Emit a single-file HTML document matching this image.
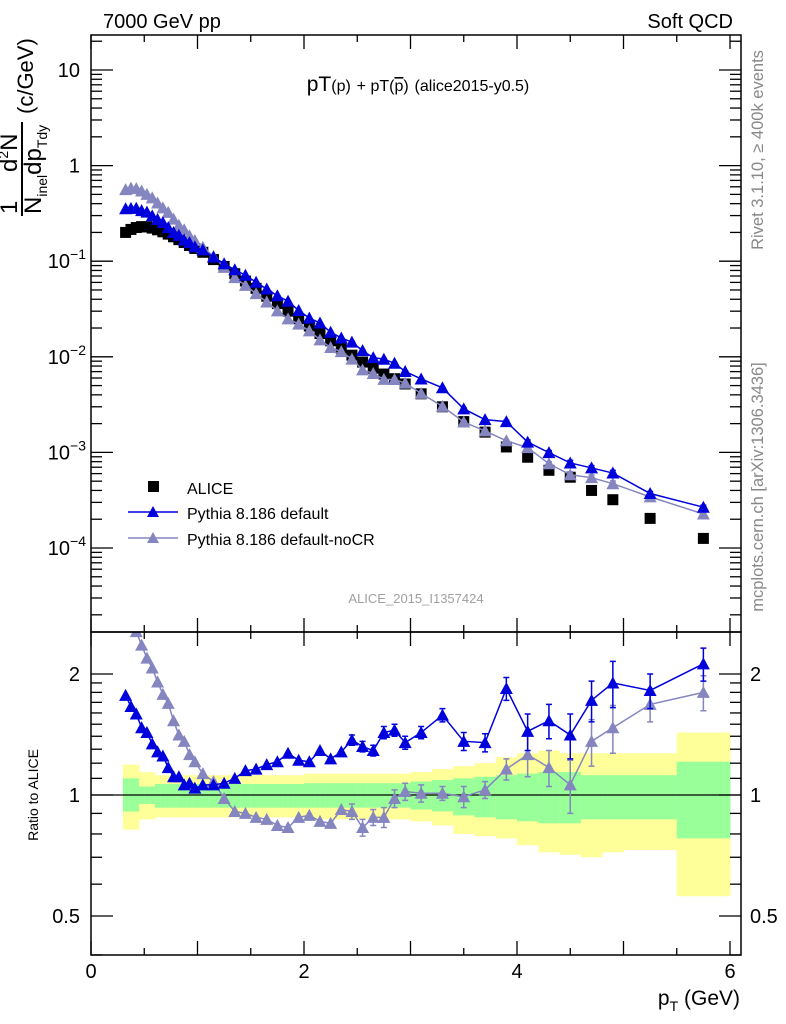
<!DOCTYPE html>
<html><head><meta charset="utf-8"><style>
body{margin:0;background:#fff}
svg{display:block;font-family:"Liberation Sans",sans-serif}
</style></head><body>
<svg id="c" width="786" height="1024" viewBox="0 0 786 1024" xmlns="http://www.w3.org/2000/svg">
<g id="bands"></g>
<g id="marks"></g>
<g id="axes"></g>
<text x="103" y="28" font-size="20">7000 GeV pp</text>
<text x="733" y="28" font-size="20" text-anchor="end">Soft QCD</text>
<text x="418" y="91" font-size="21" text-anchor="middle">pT<tspan font-size="16">(p)</tspan> <tspan font-size="16">+ pT(</tspan><tspan font-size="16" text-decoration="overline">p</tspan><tspan font-size="16">)</tspan> <tspan font-size="16">(alice2015-y0.5)</tspan></text>
<text x="416" y="603" font-size="13" fill="#a0a0a0" text-anchor="middle">ALICE_2015_I1357424</text>
<text transform="translate(763,150) rotate(-90)" font-size="16.5" fill="#888" text-anchor="middle">Rivet 3.1.10, ≥ 400k events</text>
<text transform="translate(763,487) rotate(-90)" font-size="16.5" fill="#888" text-anchor="middle">mcplots.cern.ch [arXiv:1306.3436]</text>
<g transform="rotate(-90)">
<text x="-214" y="17" font-size="24">1</text>
<text x="-172" y="17" font-size="24">d<tspan font-size="14" dy="-9">2</tspan><tspan dy="9">N</tspan></text>
<line x1="-216" y1="22" x2="-122" y2="22" stroke="#000" stroke-width="2"/>
<text x="-214" y="41" font-size="24">N<tspan font-size="14" dy="6">inel</tspan><tspan dy="-6">dp</tspan><tspan font-size="14" dy="6">Tdy</tspan></text>
<text x="-114" y="33" font-size="22">(c/GeV)</text>
</g>
<text transform="translate(38,795) rotate(-90)" font-size="14" text-anchor="middle">Ratio to ALICE</text>
<text x="740" y="1005" font-size="21" text-anchor="end">p<tspan font-size="14" dy="6">T</tspan><tspan dy="-6"> (GeV)</tspan></text>
<g>
<rect x="148" y="481" width="11" height="11" fill="#000"/>
<text x="187" y="494" font-size="16">ALICE</text>
<line x1="128" y1="512" x2="178" y2="512" stroke="#0000dd" stroke-width="1.5"/>
<polygon points="147,517 159,517 153,506" fill="#0000dd"/>
<text x="187" y="519" font-size="16">Pythia 8.186 default</text>
<line x1="128" y1="538" x2="178" y2="538" stroke="#8585bf" stroke-width="1.5"/>
<polygon points="147,543 159,543 153,532" fill="#8585bf"/>
<text x="187" y="545" font-size="16">Pythia 8.186 default-noCR</text>
</g>
</svg>
<script>
const edges=[0.3,0.35,0.4,0.45,0.5,0.55,0.6,0.65,0.7,0.75,0.8,0.85,0.9,0.95,1.0,1.1,1.2,1.3,1.4,1.5,1.6,1.7,1.8,1.9,2.0,2.1,2.2,2.3,2.4,2.5,2.6,2.7,2.8,2.9,3.0,3.2,3.4,3.6,3.8,4.0,4.2,4.4,4.6,4.8,5.0,5.5,6.0];
const alice=[0.200,0.215,0.225,0.230,0.228,0.222,0.213,0.203,0.192,0.180,0.168,0.157,0.146,0.136,0.124,0.104,0.088,0.074,0.062,0.052,0.043,0.036,0.030,0.025,0.021,0.0175,0.0147,0.0123,0.0104,0.0088,0.0076,0.0066,0.0059,0.0052,0.0041,0.0030,0.0021,0.00163,0.00114,0.00089,0.00065,0.00055,0.00040,0.00032,0.000204,0.000126];
const ratioDef=[1.77,1.66,1.59,1.47,1.43,1.34,1.28,1.25,1.17,1.11,1.11,1.06,1.07,1.04,1.06,1.06,1.07,1.10,1.15,1.16,1.19,1.21,1.27,1.22,1.21,1.29,1.23,1.28,1.37,1.32,1.29,1.43,1.45,1.35,1.43,1.58,1.36,1.35,1.84,1.44,1.53,1.41,1.72,1.90,1.82,2.12];
const ratioNoCR=[2.8,2.7,2.55,2.36,2.19,2.07,1.91,1.78,1.69,1.53,1.41,1.36,1.26,1.21,1.13,1.08,0.98,0.91,0.90,0.88,0.87,0.84,0.83,0.88,0.89,0.86,0.85,0.92,0.91,0.83,0.88,0.88,0.98,1.02,1.01,1.01,0.99,1.03,1.16,1.26,1.17,1.06,1.36,1.47,1.68,1.80];
const errDef=[0.01,0.01,0.01,0.01,0.01,0.01,0.01,0.01,0.01,0.01,0.01,0.01,0.01,0.01,0.01,0.01,0.01,0.01,0.01,0.01,0.01,0.01,0.02,0.02,0.02,0.03,0.03,0.03,0.04,0.04,0.04,0.05,0.05,0.05,0.05,0.06,0.07,0.07,0.12,0.15,0.15,0.18,0.2,0.25,0.18,0.2];
const errNoCR=[0.01,0.01,0.01,0.01,0.01,0.01,0.01,0.01,0.01,0.01,0.01,0.01,0.01,0.01,0.01,0.01,0.01,0.01,0.01,0.01,0.01,0.01,0.02,0.02,0.02,0.03,0.03,0.03,0.04,0.04,0.04,0.05,0.05,0.05,0.05,0.04,0.06,0.05,0.07,0.15,0.12,0.16,0.18,0.2,0.16,0.18];
const yUp=[1.19,1.19,1.19,1.14,1.14,1.14,1.12,1.12,1.12,1.12,1.12,1.12,1.12,1.12,1.12,1.12,1.12,1.12,1.12,1.12,1.12,1.12,1.12,1.12,1.13,1.13,1.13,1.13,1.13,1.13,1.13,1.13,1.13,1.13,1.14,1.16,1.18,1.20,1.24,1.27,1.29,1.27,1.27,1.27,1.27,1.43];
const yDn=[0.82,0.82,0.82,0.87,0.87,0.87,0.88,0.88,0.88,0.88,0.88,0.88,0.88,0.88,0.88,0.88,0.88,0.88,0.88,0.88,0.88,0.88,0.88,0.88,0.87,0.87,0.87,0.87,0.87,0.87,0.87,0.87,0.87,0.87,0.86,0.84,0.80,0.79,0.78,0.75,0.72,0.71,0.70,0.72,0.73,0.56];
const gUp=[1.10,1.10,1.10,1.05,1.05,1.05,1.065,1.065,1.065,1.065,1.065,1.065,1.065,1.065,1.065,1.065,1.065,1.065,1.065,1.065,1.065,1.065,1.065,1.065,1.07,1.07,1.07,1.07,1.07,1.07,1.07,1.07,1.07,1.07,1.08,1.09,1.10,1.11,1.12,1.13,1.14,1.14,1.12,1.12,1.12,1.21];
const gDn=[0.91,0.91,0.91,0.95,0.95,0.95,0.93,0.93,0.93,0.93,0.93,0.93,0.93,0.93,0.93,0.93,0.93,0.93,0.93,0.93,0.93,0.93,0.93,0.93,0.93,0.93,0.93,0.93,0.93,0.93,0.93,0.93,0.93,0.93,0.92,0.91,0.89,0.88,0.87,0.86,0.85,0.85,0.87,0.87,0.87,0.78];
const xTicks=[0,2,4,6];
const yMainTicks=[1,0,-1,-2,-3,-4];
const ratioTicks=[0.5,1,2];

const NS="http://www.w3.org/2000/svg";
const L=91,R=741,T=35,MB=632,B=955;
const X=v=>L+v*106.5;
const Y=v=>548-(Math.log10(v)+4)*95.6;
const YR=r=>795-Math.log10(r)*402;
function mk(tag,attrs,parent){const e=document.createElementNS(NS,tag);for(const k in attrs)e.setAttribute(k,attrs[k]);parent.appendChild(e);return e;}
const bands=document.getElementById('bands'),marks=document.getElementById('marks'),axes=document.getElementById('axes');
const centers=alice.map((_,i)=>(edges[i]+edges[i+1])/2);

for(let i=0;i<alice.length;i++){
  const x0=X(edges[i]),x1=X(edges[i+1]);
  const ry=mk('rect',{x:x0,y:YR(yUp[i]),width:x1-x0+0.5,height:YR(yDn[i])-YR(yUp[i]),fill:'#ffff99'},bands);
  
  
  const rg=mk('rect',{x:x0,y:YR(gUp[i]),width:x1-x0+0.5,height:YR(gDn[i])-YR(gUp[i]),fill:'#99ff99'},bands);
  
  
}
const defs=mk('defs',{},marks);
const cp1=mk('clipPath',{id:'cm'},defs);mk('rect',{x:L,y:T,width:R-L,height:MB-T},cp1);
const cp2=mk('clipPath',{id:'cr'},defs);mk('rect',{x:L,y:MB,width:R-L,height:B-MB},cp2);
const gm=mk('g',{'clip-path':'url(#cm)'},marks);
const gr=mk('g',{'clip-path':'url(#cr)'},marks);
mk('line',{x1:L,y1:YR(1),x2:R,y2:YR(1),stroke:'#000','stroke-width':1.3},gr);

function tri(g,x,y,col,name){const p=mk('polygon',{points:`${x-6.5},${y+5.5} ${x+6.5},${y+5.5} ${x},${y-6.5}`,fill:col},g);

}
function series(ratio,err,col,name){
  let pm='',pr='';
  for(let i=0;i<ratio.length;i++){
    const x=X(centers[i]);const v=alice[i]*ratio[i];
    pm+=(i?'L':'M')+x+','+Y(v);pr+=(i?'L':'M')+x+','+YR(ratio[i]);
  }
  mk('path',{d:pm,fill:'none',stroke:col,'stroke-width':1.5},gm);
  mk('path',{d:pr,fill:'none',stroke:col,'stroke-width':1.5},gr);
  for(let i=0;i<ratio.length;i++){
    const x=X(centers[i]);
    if(err[i]>=0.04){
      const a=YR(ratio[i]+err[i]),b=YR(ratio[i]-err[i]);
      mk('path',{d:`M${x},${a}L${x},${b}M${x-3},${a}L${x+3},${a}M${x-3},${b}L${x+3},${b}`,stroke:col,'stroke-width':1.5},gr);
      const v=alice[i]*ratio[i],e=alice[i]*err[i]*0.5;
      mk('path',{d:`M${x},${Y(v+e)}L${x},${Y(v-e)}M${x-3},${Y(v+e)}L${x+3},${Y(v+e)}`,stroke:col,'stroke-width':1.5},gm);
    }
    tri(gm,x,Y(alice[i]*ratio[i]),col,name+'-point');
    tri(gr,x,YR(ratio[i]),col,name+'-ratio-point');
  }
}
for(let i=0;i<alice.length;i++){
  const s=mk('rect',{x:X(centers[i])-5.5,y:Y(alice[i])-5.5,width:11,height:11,fill:'#000'},gm);
  
  
}
series(ratioNoCR,errNoCR,'#8585bf','nocr');
series(ratioDef,errDef,'#0000dd','default');

mk('rect',{x:L,y:T,width:R-L,height:MB-T,fill:'none',stroke:'#000','stroke-width':1.5},axes);
mk('rect',{x:L,y:MB,width:R-L,height:B-MB,fill:'none',stroke:'#000','stroke-width':1.5},axes);
for(let v=0;v<=6.01;v+=0.5){
  const x=X(v),len=(Math.abs(v-Math.round(v))<0.01)?14:7;
  if(x>R)continue;
  mk('line',{x1:x,y1:B,x2:x,y2:B-len,stroke:'#000','stroke-width':1.3},axes);
  mk('line',{x1:x,y1:MB,x2:x,y2:MB+len,stroke:'#000','stroke-width':1.3},axes);
  mk('line',{x1:x,y1:MB,x2:x,y2:MB-len,stroke:'#000','stroke-width':1.3},axes);
  mk('line',{x1:x,y1:T,x2:x,y2:T+len,stroke:'#000','stroke-width':1.3},axes);
}
xTicks.forEach(v=>{const t=mk('text',{x:X(v),y:978,'font-size':20,'text-anchor':'middle'},axes);t.textContent=v;

});
for(let d=-5;d<=1;d++){
  for(let m=1;m<=9;m++){
    const v=m*Math.pow(10,d),y=Y(v);if(y<T||y>MB)continue;
    const len=m===1?22:11;
    mk('line',{x1:L,y1:y,x2:L+len,y2:y,stroke:'#000','stroke-width':1.3},axes);
    mk('line',{x1:R,y1:y,x2:R-len,y2:y,stroke:'#000','stroke-width':1.3},axes);
  }
}
yMainTicks.forEach(d=>{
  const y=Y(Math.pow(10,d));
  const t=mk('text',{x:80,y:y+7,'font-size':20,'text-anchor':'end'},axes);
  if(d===1)t.textContent='10';else if(d===0)t.textContent='1';
  else{t.textContent='10';const s=mk('tspan',{'font-size':14,dy:-9},t);s.textContent=String(d).replace('-','−');t.setAttribute('x',86);}
  
  
});
[0.4,0.5,0.6,0.7,0.8,0.9,1,1.1,1.2,1.3,1.4,1.5,1.6,1.7,1.8,1.9,2].forEach(v=>{
  const y=YR(v);const len=(v===0.5||v===1||v===2)?22:11;
  mk('line',{x1:L,y1:y,x2:L+len,y2:y,stroke:'#000','stroke-width':1.3},axes);
  mk('line',{x1:R,y1:y,x2:R-len,y2:y,stroke:'#000','stroke-width':1.3},axes);
});
ratioTicks.forEach(v=>{
  const a=mk('text',{x:80,y:YR(v)+7,'font-size':20,'text-anchor':'end'},axes);a.textContent=v;
  
  
  const b=mk('text',{x:750,y:YR(v)+7,'font-size':20},axes);b.textContent=v;
  
  
});
</script>
</body></html>
